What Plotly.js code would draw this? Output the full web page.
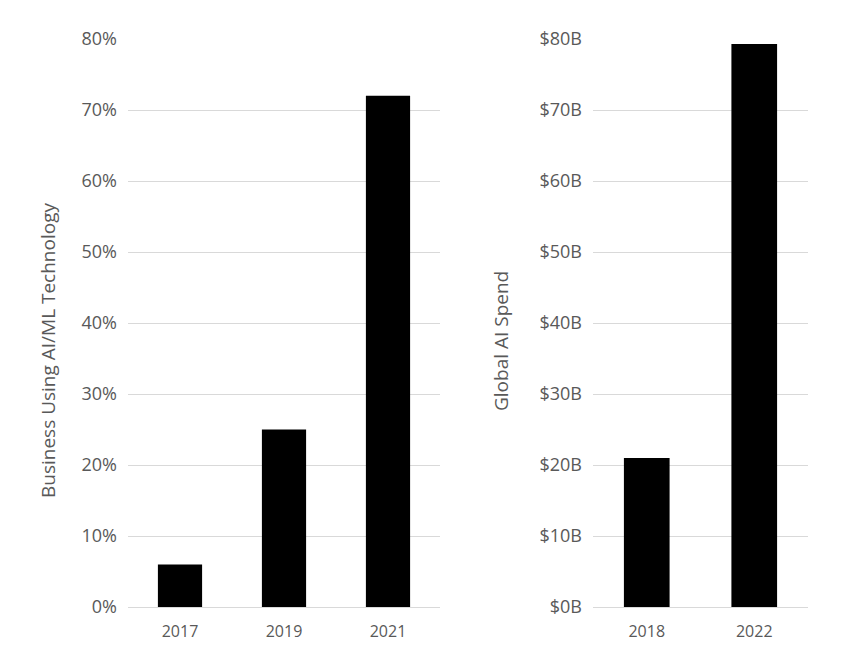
<!DOCTYPE html>
<html>
<head>
<meta charset="utf-8">
<script src="https://cdn.plot.ly/plotly-3.0.1.min.js"></script>
<style>html,body{margin:0;padding:0;background:#fff;}#chart{width:863px;height:662px;}</style>
</head>
<body>
<div id="chart"></div>
<script>
const adoptionYears = ['2017', '2019', '2021'];
const adoptionPct = [6, 25, 72];
const spendYears = ['2018', '2022'];
const spendBillions = [21, 79.3];
const pctTicks = [0, 10, 20, 30, 40, 50, 60, 70, 80];
const spendTicks = [0, 10, 20, 30, 40, 50, 60, 70, 80];
const leftTitle = 'Business Using AI/ML Technology';
const rightTitle = 'Global AI Spend';

const W = 863, H = 662;
const fontFam = '"Open Sans", "Noto Sans", sans-serif';
const textColor = '#595959';
const gridColor = '#d9d9d9';
const yTop = 1 - 39 / H, yBot = 1 - 607 / H;

const traces = [
  {type: 'bar', x: adoptionYears, y: adoptionPct, xaxis: 'x', yaxis: 'y',
   marker: {color: '#000000', line: {width: 0}}, hoverinfo: 'x+y'},
  {type: 'bar', x: spendYears, y: spendBillions, xaxis: 'x2', yaxis: 'y2',
   marker: {color: '#000000', line: {width: 0}}, hoverinfo: 'x+y'}
];

const yCommon = {
  range: [0, 80], showgrid: true, gridcolor: gridColor, gridwidth: 1,
  zeroline: true, zerolinecolor: gridColor, zerolinewidth: 1,
  showline: false, ticks: '', tickmode: 'array',
  tickfont: {family: fontFam, size: 18, color: textColor},
  ticklabelstandoff: 10, fixedrange: true
};
const xCommon = {
  type: 'category', showgrid: false, zeroline: false, showline: false, ticks: '',
  tickfont: {family: fontFam, size: 16, color: textColor},
  ticklabelstandoff: 13, fixedrange: true
};

const layout = {
  width: W, height: H,
  margin: {l: 0, r: 0, t: 0, b: 0, pad: 0},
  paper_bgcolor: '#ffffff', plot_bgcolor: '#ffffff',
  showlegend: false, bargap: 0.575,
  xaxis: Object.assign({}, xCommon, {domain: [128 / W, 440 / W], anchor: 'y'}),
  yaxis: Object.assign({}, yCommon, {domain: [yBot, yTop], anchor: 'x',
    tickvals: pctTicks, ticktext: pctTicks.map(v => v + '%')}),
  xaxis2: Object.assign({}, xCommon, {domain: [593 / W, 808 / W], anchor: 'y2'}),
  yaxis2: Object.assign({}, yCommon, {domain: [yBot, yTop], anchor: 'x2',
    tickvals: spendTicks, ticktext: spendTicks.map(v => '$' + v + 'B')}),
  annotations: [
    {text: leftTitle, xref: 'paper', yref: 'paper', x: 48 / W, y: 1 - 351 / H,
     xanchor: 'center', yanchor: 'middle', textangle: -90, showarrow: false,
     font: {family: fontFam, size: 19, color: textColor}},
    {text: rightTitle, xref: 'paper', yref: 'paper', x: 501 / W, y: 1 - 341 / H,
     xanchor: 'center', yanchor: 'middle', textangle: -90, showarrow: false,
     font: {family: fontFam, size: 19, color: textColor}}
  ]
};

Plotly.newPlot('chart', traces, layout, {displayModeBar: false, staticPlot: true});
</script>
</body>
</html>
